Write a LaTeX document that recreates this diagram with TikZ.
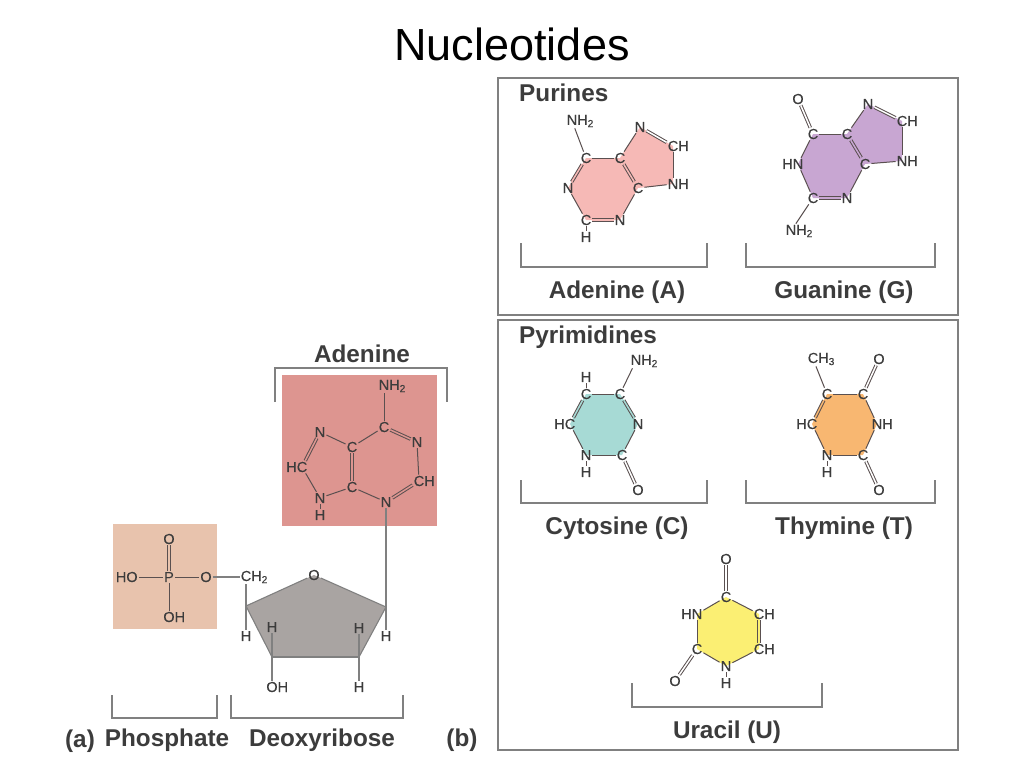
\documentclass[tikz,border=0pt]{standalone}
\usepackage{fontspec}
\setmainfont{Liberation Sans}
\newfontface\atomfont{Liberation Sans}[FakeBold=0.35]
\usetikzlibrary{positioning,backgrounds}

\definecolor{inkc}{HTML}{3C3C3C}
\definecolor{bondc}{HTML}{5A5050}
\definecolor{framec}{HTML}{808080}
\definecolor{pinkc}{HTML}{F6B9B6}
\definecolor{purplec}{HTML}{C8A6D2}
\definecolor{tealc}{HTML}{A7DAD5}
\definecolor{orangec}{HTML}{F8B771}
\definecolor{yellowc}{HTML}{FBEF73}
\definecolor{redboxc}{HTML}{DD9590}
\definecolor{tanboxc}{HTML}{E8C3AD}
\definecolor{sugarc}{HTML}{A9A4A2}

\tikzset{
  atom/.style={text=inkc,inner sep=1pt,font=\atomfont\fontsize{14.5}{16}\selectfont},
  joint/.style={shape=rectangle,inner sep=0pt,outer sep=0pt,minimum size=0pt},
  bond/.style={draw=bondc,line width=1pt},
  sbond/.style={draw=framec,line width=1.1pt},
  dbond/.style={bond,double=#1,double distance=1.5pt},
  dbond/.default=white,
  bracket/.style={draw=framec,line width=1.2pt},
  basename/.style={text=inkc,inner sep=0pt,font=\bfseries\fontsize{24.3}{28}\selectfont},
  frame/.style={draw=framec,line width=1.2pt,inner sep=0pt},
  colourbox/.style={inner sep=0pt}
}

\begin{document}
\begin{tikzpicture}[x=1pt,y=-1pt,on grid]
  \useasboundingbox (0,0) rectangle (1024,768);

  \node [inner sep=0pt,font=\fontsize{45}{50}\selectfont] (title) at (512,44) {Nucleotides};

  % Frames
  \node [frame,minimum width=460pt,minimum height=237pt] (purines) at (728,196.5) {};
  \node [frame,minimum width=460pt,minimum height=430pt] (pyrimidines) at (728,535) {};
  \node [basename,anchor=west] (purineslabel) at (519,93) {Purines};
  \node [basename,anchor=west] (pyrimidineslabel) at (519,337) {Pyrimidines};

  % Adenine (A)
  \node [atom] (ac1) at (586,158) {C};
  \node [atom,right=34pt of ac1] (ac2) {C};
  \node [atom,below left=30pt and 18pt of ac1] (an1) {N};
  \node [atom,below right=30pt and 18pt of ac2] (ac3) {C};
  \node [atom,below=62pt of ac1] (ac4) {C};
  \node [atom,below=62pt of ac2] (an2) {N};
  \node [atom,below=17pt of ac4] (ah) {H};
  \node [atom,above left=37pt and 14pt of ac1] (anh) {N\rlap{H\textsubscript{2}}};
  \node [atom,above right=31pt and 20pt of ac2] (an3) {N};
  \node [atom,below right=19pt and 33pt of an3] (ac5) {C\rlap{H}};
  \node [atom,below=38pt of ac5] (an4) {N\rlap{H}};
  \begin{scope}[on background layer]
    \fill [pinkc] (ac1.center) -- (ac2.center) -- (an3.center) -- (ac5.center) -- (an4.center)
      -- (ac3.center) -- (an2.center) -- (ac4.center) -- (an1.center) -- cycle;
  \end{scope}
  \draw [bond] (anh) -- (ac1);
  \draw [bond] (ac1) -- (ac2);
  \draw [dbond=pinkc] (ac1) -- (an1);
  \draw [bond] (an1) -- (ac4);
  \draw [dbond=pinkc] (ac4) -- (an2);
  \draw [bond] (an2) -- (ac3);
  \draw [dbond=pinkc] (ac2) -- (ac3);
  \draw [bond] (ac2) -- (an3);
  \draw [dbond] (an3) -- (ac5);
  \draw [bond] (ac5) -- (an4);
  \draw [bond] (an4) -- (ac3);
  \draw [bond] (ac4) -- (ah);
  \node [joint] (abl) at (521,243) {};
  \node [joint,right=186pt of abl] (abr) {};
  \draw [bracket] (abl) -- ++(0,24) -| (abr);
  \node [basename,below right=49pt and 96pt of abl] (aname) {Adenine (A)};

  % Guanine (G)
  \node [atom] (gc1) at (813,134) {C};
  \node [atom,right=34pt of gc1] (gc2) {C};
  \node [atom,above left=35pt and 15pt of gc1] (go) {O};
  \node [atom,below left=30pt and 15pt of gc1] (gn1) {\llap{H}N};
  \node [atom,below right=30pt and 18pt of gc2] (gc3) {C};
  \node [atom,below=64pt of gc1] (gc4) {C};
  \node [atom,below=64pt of gc2] (gn2) {N};
  \node [atom,below left=33pt and 22pt of gc4] (gnh) {N\rlap{H\textsubscript{2}}};
  \node [atom,above right=30pt and 21pt of gc2] (gn3) {N};
  \node [atom,below right=17pt and 34pt of gn3] (gc5) {C\rlap{H}};
  \node [atom,below=40pt of gc5] (gn4) {N\rlap{H}};
  \begin{scope}[on background layer]
    \fill [purplec] (gc1.center) -- (gc2.center) -- (gn3.center) -- (gc5.center) -- (gn4.center)
      -- (gc3.center) -- (gn2.center) -- (gc4.center) -- (gn1.center) -- cycle;
  \end{scope}
  \draw [dbond] (go) -- (gc1);
  \draw [bond] (gc1) -- (gc2);
  \draw [bond] (gc1) -- (gn1);
  \draw [bond] (gn1) -- (gc4);
  \draw [dbond=purplec] (gc4) -- (gn2);
  \draw [bond] (gn2) -- (gc3);
  \draw [dbond=purplec] (gc2) -- (gc3);
  \draw [bond] (gc2) -- (gn3);
  \draw [dbond] (gn3) -- (gc5);
  \draw [bond] (gc5) -- (gn4);
  \draw [bond] (gn4) -- (gc3);
  \draw [bond] (gc4) -- (gnh);
  \node [joint] (gbl) at (746,243) {};
  \node [joint,right=189pt of gbl] (gbr) {};
  \draw [bracket] (gbl) -- ++(0,24) -| (gbr);
  \node [basename,below right=49pt and 98pt of gbl] (gname) {Guanine (G)};

  % Cytosine (C)
  \node [atom] (cc1) at (586,394) {C};
  \node [atom,right=34pt of cc1] (cc2) {C};
  \node [atom,above=17pt of cc1] (ch) {H};
  \node [atom,above right=33pt and 16pt of cc2] (cnh) {N\rlap{H\textsubscript{2}}};
  \node [atom,below left=30pt and 16pt of cc1] (cc3) {\llap{H}C};
  \node [atom,below right=30pt and 18pt of cc2] (cn1) {N};
  \node [atom,below=61pt of cc1] (cn2) {N};
  \node [atom,below=17pt of cn2] (chn) {H};
  \node [atom,right=36pt of cn2] (cc4) {C};
  \node [atom,below right=35pt and 16pt of cc4] (co) {O};
  \begin{scope}[on background layer]
    \fill [tealc] (cc1.center) -- (cc2.center) -- (cn1.center) -- (cc4.center)
      -- (cn2.center) -- (cc3.center) -- cycle;
  \end{scope}
  \draw [bond] (cc1) -- (ch);
  \draw [bond] (cc1) -- (cc2);
  \draw [bond] (cc2) -- (cnh);
  \draw [dbond=tealc] (cc1) -- (cc3);
  \draw [dbond=tealc] (cc2) -- (cn1);
  \draw [bond] (cn1) -- (cc4);
  \draw [bond] (cc4) -- (cn2);
  \draw [bond] (cn2) -- (cc3);
  \draw [bond] (cn2) -- (chn);
  \draw [dbond] (cc4) -- (co);
  \node [joint] (cbl) at (521,480) {};
  \node [joint,right=186pt of cbl] (cbr) {};
  \draw [bracket] (cbl) -- ++(0,23) -| (cbr);
  \node [basename,below right=48pt and 96pt of cbl] (cname) {Cytosine (C)};

  % Thymine (T)
  \node [atom] (tc1) at (827,394) {C};
  \node [atom,right=36pt of tc1] (tc2) {C};
  \node [atom,above left=35pt and 14pt of tc1] (tme) {C\rlap{H\textsubscript{3}}};
  \node [atom,above right=35pt and 16pt of tc2] (to1) {O};
  \node [atom,below left=30pt and 15pt of tc1] (tc3) {\llap{H}C};
  \node [atom,below right=30pt and 14pt of tc2] (tn1) {N\rlap{H}};
  \node [atom,below=61pt of tc1] (tn2) {N};
  \node [atom,below=17pt of tn2] (th) {H};
  \node [atom,right=36pt of tn2] (tc4) {C};
  \node [atom,below right=35pt and 16pt of tc4] (to2) {O};
  \begin{scope}[on background layer]
    \fill [orangec] (tc1.center) -- (tc2.center) -- (tn1.center) -- (tc4.center)
      -- (tn2.center) -- (tc3.center) -- cycle;
  \end{scope}
  \draw [bond] (tme) -- (tc1);
  \draw [bond] (tc1) -- (tc2);
  \draw [dbond] (tc2) -- (to1);
  \draw [dbond=orangec] (tc1) -- (tc3);
  \draw [bond] (tc2) -- (tn1);
  \draw [bond] (tn1) -- (tc4);
  \draw [bond] (tc4) -- (tn2);
  \draw [bond] (tn2) -- (tc3);
  \draw [bond] (tn2) -- (th);
  \draw [dbond] (tc4) -- (to2);
  \node [joint] (tbl) at (746,480) {};
  \node [joint,right=189pt of tbl] (tbr) {};
  \draw [bracket] (tbl) -- ++(0,23) -| (tbr);
  \node [basename,below right=48pt and 98pt of tbl] (tname) {Thymine (T)};

  % Uracil (U)
  \node [atom] (uc1) at (726,597) {C};
  \node [atom,above=38pt of uc1] (uo1) {O};
  \node [atom,below left=17pt and 29pt of uc1] (un1) {\llap{H}N};
  \node [atom,below right=17pt and 33pt of uc1] (uc2) {C\rlap{H}};
  \node [atom,below=35pt of un1] (uc3) {C};
  \node [atom,below=35pt of uc2] (uc4) {C\rlap{H}};
  \node [atom,below=69pt of uc1] (un2) {N};
  \node [atom,below=17pt of un2] (uh) {H};
  \node [atom,below left=32pt and 22pt of uc3] (uo2) {O};
  \begin{scope}[on background layer]
    \fill [yellowc] (uc1.center) -- (uc2.center) -- (uc4.center) -- (un2.center)
      -- (uc3.center) -- (un1.center) -- cycle;
  \end{scope}
  \draw [dbond] (uc1) -- (uo1);
  \draw [bond] (uc1) -- (un1);
  \draw [bond] (uc1) -- (uc2);
  \draw [dbond=yellowc] (uc2) -- (uc4);
  \draw [bond] (uc4) -- (un2);
  \draw [bond] (un2) -- (uc3);
  \draw [bond] (uc3) -- (un1);
  \draw [bond] (un2) -- (uh);
  \draw [dbond] (uc3) -- (uo2);
  \node [joint] (ubl) at (632,683) {};
  \node [joint,right=190pt of ubl] (ubr) {};
  \draw [bracket] (ubl) -- ++(0,24) -| (ubr);
  \node [basename,below right=49pt and 95pt of ubl] (uname) {Uracil (U)};

  % Adenine on the sugar
  \node [colourbox,fill=redboxc,minimum width=155pt,minimum height=151pt] (redbox) at (359.5,450.5) {};
  \node [atom] (bc1) at (384,427) {C};
  \node [atom,above=41pt of bc1] (bnh) {N\rlap{H\textsubscript{2}}};
  \node [atom,below right=15pt and 33pt of bc1] (bn1) {N};
  \node [atom,below right=39pt and 2pt of bn1] (bc2) {C\rlap{H}};
  \node [atom,below right=75pt and 2pt of bc1] (bn2) {N};
  \node [atom,below left=20pt and 32pt of bc1] (bc3) {C};
  \node [atom,below=40pt of bc3] (bc4) {C};
  \node [atom,above left=15pt and 32pt of bc3] (bn3) {N};
  \node [atom,below left=35pt and 18pt of bn3] (bc5) {\llap{H}C};
  \node [atom,below=66pt of bn3] (bn4) {N};
  \node [atom,below=17pt of bn4] (bh) {H};
  \draw [bond] (bnh) -- (bc1);
  \draw [dbond=redboxc] (bc1) -- (bn1);
  \draw [bond] (bn1) -- (bc2);
  \draw [dbond=redboxc] (bc2) -- (bn2);
  \draw [bond] (bn2) -- (bc4);
  \draw [dbond=redboxc] (bc3) -- (bc4);
  \draw [bond] (bc3) -- (bc1);
  \draw [bond] (bc3) -- (bn3);
  \draw [dbond=redboxc] (bn3) -- (bc5);
  \draw [bond] (bc5) -- (bn4);
  \draw [bond] (bn4) -- (bc4);
  \draw [bond] (bn4) -- (bh);
  \node [joint] (bbl) at (275,402) {};
  \node [joint,right=172pt of bbl] (bbr) {};
  \draw [bracket] (bbl) -- ++(0,-34) -| (bbr);
  \node [basename,above right=48pt and 87pt of bbl] (bname) {Adenine};

  % Phosphate
  \node [colourbox,fill=tanboxc,minimum width=104pt,minimum height=105pt] (tanbox) at (165,576.5) {};
  \node [atom] (pp) at (169,577) {P};
  \node [atom,above=38pt of pp] (po1) {O};
  \node [atom,left=37pt of pp] (po2) {\llap{H}O};
  \node [atom,right=37pt of pp] (po3) {O};
  \node [atom,below=40pt of pp] (po4) {O\rlap{H}};
  \draw [dbond=tanboxc] (pp) -- (po1);
  \draw [bond] (pp) -- (po2);
  \draw [bond] (pp) -- (po3);
  \draw [bond] (pp) -- (po4);

  % Deoxyribose
  \node [atom,right=40pt of po3] (sc) {C\rlap{H\textsubscript{2}}};
  \node [joint,below=29pt of sc] (s1) {};
  \node [atom,above right=31pt and 68pt of s1] (so) {O};
  \node [joint,below right=32pt and 72pt of so] (s2) {};
  \node [joint,below left=50pt and 27pt of s2] (s3) {};
  \node [joint,left=87pt of s3] (s4) {};
  \node [atom,below=30pt of s1] (sh1) {H};
  \node [atom,above=30pt of s4] (sh2) {H};
  \node [atom,below=30pt of s4] (sh3) {O\rlap{H}};
  \node [atom,above=29pt of s3] (sh4) {H};
  \node [atom,below=30pt of s3] (sh5) {H};
  \node [atom,below=29pt of s2] (sh6) {H};
  \begin{scope}[on background layer]
    \fill [sugarc] (s1.center) -- (so.center) -- (s2.center) -- (s3.center) -- (s4.center) -- cycle;
  \end{scope}
  \draw [sbond] (po3) -- (sc);
  \draw [sbond] (sc) -- (s1);
  \draw [sbond] (s1) -- (sh1);
  \draw [sbond] (s1) -- (so);
  \draw [sbond] (so) -- (s2);
  \draw [sbond] (s2) -- (s3);
  \draw [sbond] (s3) -- (s4);
  \draw [sbond] (s4) -- (s1);
  \draw [sbond] (s4) -- (sh2);
  \draw [sbond] (s4) -- (sh3);
  \draw [sbond] (s3) -- (sh4);
  \draw [sbond] (s3) -- (sh5);
  \draw [sbond] (s2) -- (sh6);
  \draw [sbond] (bn2) -- (s2);

  % Captions
  \node [joint] (pbl) at (112,695) {};
  \node [joint,right=105pt of pbl] (pbr) {};
  \draw [bracket] (pbl) -- ++(0,23) -| (pbr);
  \node [basename,below right=45pt and 55pt of pbl] (pname) {Phosphate};
  \node [joint] (dbl) at (231,695) {};
  \node [joint,right=172pt of dbl] (dbr) {};
  \draw [bracket] (dbl) -- ++(0,23) -| (dbr);
  \node [basename,below right=45pt and 91pt of dbl] (dname) {Deoxyribose};
  \node [basename] (parta) at (80,741) {(a)};
  \node [basename] (partb) at (462,740) {(b)};
\end{tikzpicture}
\end{document}
